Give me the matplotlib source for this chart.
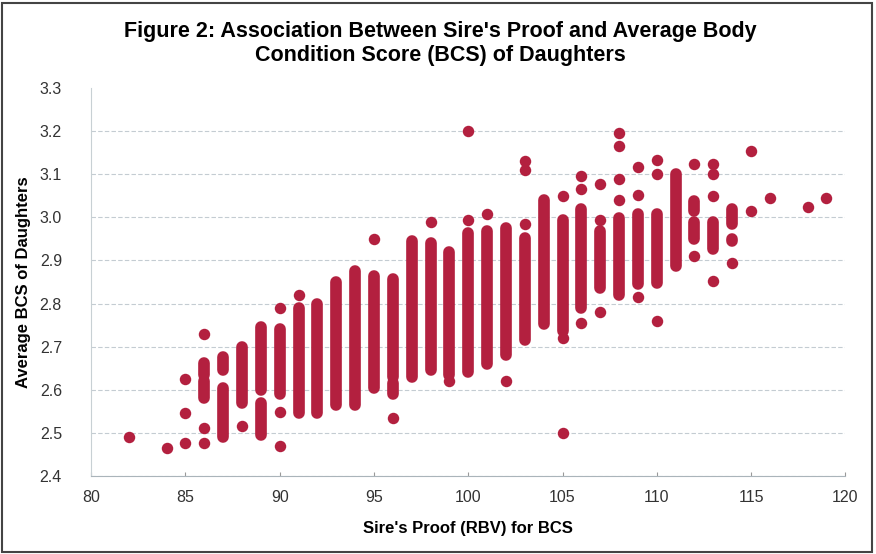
import matplotlib.pyplot as plt
from matplotlib.patches import Rectangle

# dense runs of daughters' averages, one vertical run per sire proof value
col_x = [86, 86, 87, 87, 88, 89, 89, 90, 91, 92, 93, 94, 95, 96, 96, 97, 98, 99, 100, 101,
         102, 103, 104, 105, 106, 107, 108, 109, 110, 111, 112, 112, 113, 114, 114]
col_lo = [2.633, 2.58, 2.645, 2.49, 2.57, 2.60, 2.495, 2.59, 2.545, 2.545, 2.565, 2.565, 2.605, 2.63, 2.59, 2.63, 2.645, 2.635, 2.64, 2.66,
          2.68, 2.715, 2.753, 2.737, 2.79, 2.837, 2.82, 2.845, 2.848, 2.887, 3.015, 2.95, 2.926, 2.985, 2.945]
col_hi = [2.663, 2.62, 2.675, 2.605, 2.70, 2.745, 2.57, 2.74, 2.79, 2.80, 2.85, 2.875, 2.865, 2.857, 2.615, 2.945, 2.94, 2.92, 2.963, 2.968,
          2.975, 2.953, 3.04, 2.995, 3.02, 2.968, 2.998, 3.007, 3.007, 3.10, 3.037, 2.99, 2.99, 3.02, 2.95]

# isolated points
dot_x = [82, 84, 85, 85, 85, 86, 86, 86, 88, 90, 90, 90, 91, 95, 96, 98, 99, 100, 100, 101,
         102, 103, 103, 103, 105, 105, 105, 106, 106, 106, 107, 107, 107, 108, 108, 108, 108,
         109, 109, 109, 110, 110, 110, 112, 112, 113, 113, 113, 113, 114, 115, 115, 116, 118, 119]
dot_y = [2.49, 2.465, 2.626, 2.545, 2.476, 2.73, 2.51, 2.476, 2.515, 2.79, 2.548, 2.47, 2.82, 2.95, 2.535, 2.99, 2.62, 3.20, 2.995, 3.007,
         2.62, 3.13, 3.11, 2.985, 3.05, 2.72, 2.50, 3.095, 3.065, 2.755, 3.077, 2.993, 2.78, 3.195, 3.165, 3.09, 3.04,
         3.118, 3.053, 2.815, 3.134, 3.10, 2.76, 3.123, 2.91, 3.123, 3.10, 3.05, 2.853, 2.894, 3.155, 3.015, 3.045, 3.025, 3.045]

title = "Figure 2: Association Between Sire's Proof and Average Body\nCondition Score (BCS) of Daughters"
xticks = [80, 85, 90, 95, 100, 105, 110, 115, 120]
yticks = [2.4, 2.5, 2.6, 2.7, 2.8, 2.9, 3.0, 3.1, 3.2, 3.3]

plt.rcParams['font.family'] = ['Liberation Sans', 'DejaVu Sans']
red = '#B3203F'

fig = plt.figure(figsize=(8.76, 5.54), dpi=100)
ax = fig.add_axes([0.104, 0.141, 0.861, 0.700])

ax.vlines(col_x, col_lo, col_hi, colors=red, linewidth=8.4, capstyle='round', zorder=3)
ax.scatter(dot_x, dot_y, s=68, color=red, linewidths=0, zorder=3)

ax.set_xlim(80, 120)
ax.set_ylim(2.4, 3.3)
ax.set_xticks(xticks)
ax.set_yticks(yticks)
ax.set_yticklabels(['%.1f' % v for v in yticks])
ax.tick_params(axis='both', labelsize=11.5, colors='#333333')
ax.tick_params(axis='y', length=0, pad=21)
ax.tick_params(axis='x', length=3, direction='in', pad=10, color='#999999')
ax.grid(axis='y', color='#c4ccd2', linewidth=0.8, linestyle=(0, (4, 2)))
ax.get_ygridlines()[-1].set_visible(False)
ax.set_axisbelow(True)

for s in ['top', 'right']:
    ax.spines[s].set_visible(False)
ax.spines['left'].set_color('#c8d0d4')
ax.spines['bottom'].set_color('#aab4ba')

ax.set_xlabel("Sire's Proof (RBV) for BCS", fontsize=12, fontweight='bold', labelpad=12)
ax.set_ylabel("Average BCS of Daughters", fontsize=12, fontweight='bold', labelpad=6)
fig.text(0.503, 0.922, title, ha='center', va='center', fontsize=15.5, fontweight='bold', linespacing=1.2)

fig.patches.append(Rectangle((0.002, 0.004), 0.994, 0.99, transform=fig.transFigure,
                             fill=False, edgecolor='#444444', linewidth=1.5))

plt.savefig('out.png', dpi=100)
